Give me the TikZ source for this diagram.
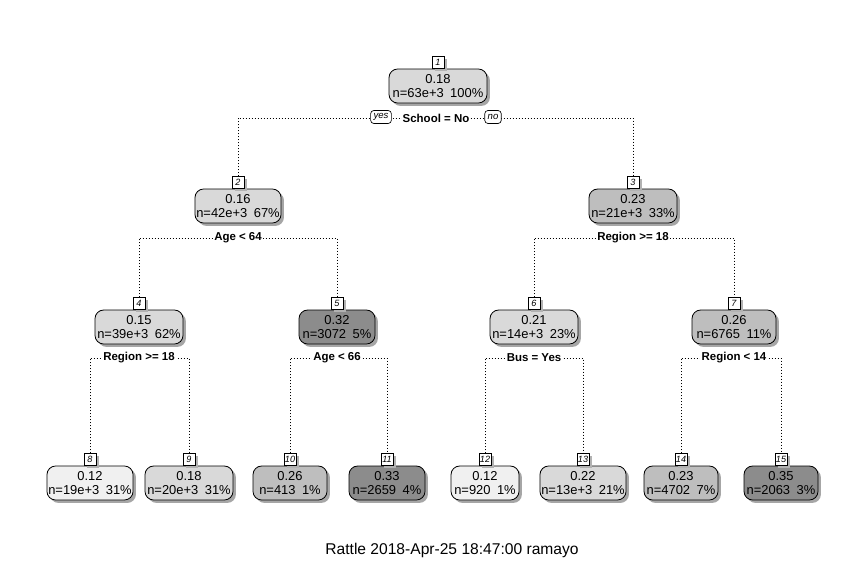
\documentclass[tikz,border=0pt]{standalone}
\usepackage{fontspec}
\setmainfont{Liberation Sans}
\usetikzlibrary{shadows,backgrounds}
\definecolor{g1}{HTML}{D9D9D9}
\definecolor{g2}{HTML}{BEBEBE}
\definecolor{g3}{HTML}{8C8C8C}
\definecolor{g0}{HTML}{F0F0F0}
\begin{document}
\begin{tikzpicture}[x=0.75pt,y=-0.75pt,
  tnode/.style={draw, line width=0.6pt, rounded corners=6.5pt, minimum width=#1*0.75pt, minimum height=25.5pt,
    inner sep=1pt, align=center, font=\fontsize{9.7}{11}\selectfont,
    drop shadow={shadow xshift=2.2pt, shadow yshift=-2.2pt, fill=black!35, opacity=1}},
  nlab/.style={draw, line width=0.5pt, fill=white, inner sep=0.6pt, minimum width=9pt, minimum height=9pt, anchor=south,
    font=\fontsize{6.8}{6.8}\selectfont\itshape,
    drop shadow={shadow xshift=2pt, shadow yshift=-2pt, fill=black!30, opacity=1}},
  split/.style={fill=white, inner sep=1.2pt, font=\fontsize{8.6}{10}\selectfont\bfseries},
  yn/.style={draw, line width=0.5pt, fill=white, rounded corners=2.5pt, inner xsep=2.2pt, inner ysep=1pt, minimum height=9.8pt,
    font=\fontsize{7.2}{7.5}\selectfont\itshape},
  conn/.style={line width=0.7pt, dash pattern=on 0.7pt off 1.55pt}
]
\useasboundingbox (0,0) rectangle (866,561);

% level 0
\node[tnode=98, fill=g1] (n1) at (438,86) {0.18\\n=63e+3\enspace 100\%};
% level 1
\node[tnode=86, fill=g1] (n2) at (238,206) {0.16\\n=42e+3\enspace 67\%};
\node[tnode=88, fill=g2] (n3) at (633,206) {0.23\\n=21e+3\enspace 33\%};
% level 2
\node[tnode=88, fill=g1] (n4) at (139,327) {0.15\\n=39e+3\enspace 62\%};
\node[tnode=76, fill=g3] (n5) at (337,327) {0.32\\n=3072\enspace 5\%};
\node[tnode=88, fill=g1] (n6) at (534,327) {0.21\\n=14e+3\enspace 23\%};
\node[tnode=84, fill=g2] (n7) at (734,327) {0.26\\n=6765\enspace 11\%};
% leaves
\node[tnode=86, fill=g0] (n8)  at (90,483)  {0.12\\n=19e+3\enspace 31\%};
\node[tnode=88, fill=g1] (n9)  at (189,483) {0.18\\n=20e+3\enspace 31\%};
\node[tnode=74, fill=g2] (n10) at (290,483) {0.26\\n=413\enspace 1\%};
\node[tnode=76, fill=g3] (n11) at (387,483) {0.33\\n=2659\enspace 4\%};
\node[tnode=68, fill=g0] (n12) at (485,483) {0.12\\n=920\enspace 1\%};
\node[tnode=86, fill=g1] (n13) at (583,483) {0.22\\n=13e+3\enspace 21\%};
\node[tnode=74, fill=g2] (n14) at (681,483) {0.23\\n=4702\enspace 7\%};
\node[tnode=74, fill=g3] (n15) at (781,483) {0.35\\n=2063\enspace 3\%};

% number labels
\foreach \i in {1,...,15} {
  \node[nlab] (l\i) at ([yshift=-0.3pt]n\i.north) {\i};
}

% split labels
\node[split, inner xsep=0.5pt] (s1) at (436,118) {School = No};
\node[yn] (yes) at (381,117) {yes};
\node[yn] (no)  at (493,117) {no};
\node[split] (s2) at (238,238) {Age < 64};
\node[split] (s3) at (633,238) {Region >= 18};
\node[split] (s4) at (139,358) {Region >= 18};
\node[split] (s5) at (337,358) {Age < 66};
\node[split] (s6) at (534,358) {Bus = Yes};
\node[split] (s7) at (734,358) {Region < 14};

\begin{scope}[on background layer]
  \fill[white] (0,0) rectangle (866,561);
  \draw[conn] (l2.north) -- (l2.north |- s1.center) -- (l3.north |- s1.center) -- (l3.north);
  \draw[conn] (l4.north) -- (l4.north |- s2.center) -- (l5.north |- s2.center) -- (l5.north);
  \draw[conn] (l6.north) -- (l6.north |- s3.center) -- (l7.north |- s3.center) -- (l7.north);
  \draw[conn] (l8.north) -- (l8.north |- s4.center) -- (l9.north |- s4.center) -- (l9.north);
  \draw[conn] (l10.north) -- (l10.north |- s5.center) -- (l11.north |- s5.center) -- (l11.north);
  \draw[conn] (l12.north) -- (l12.north |- s6.center) -- (l13.north |- s6.center) -- (l13.north);
  \draw[conn] (l14.north) -- (l14.north |- s7.center) -- (l15.north |- s7.center) -- (l15.north);
\end{scope}

\node[font=\fontsize{11.7}{13}\selectfont] (foot) at (452,550) {Rattle 2018-Apr-25 18:47:00 ramayo};
\end{tikzpicture}
\end{document}
